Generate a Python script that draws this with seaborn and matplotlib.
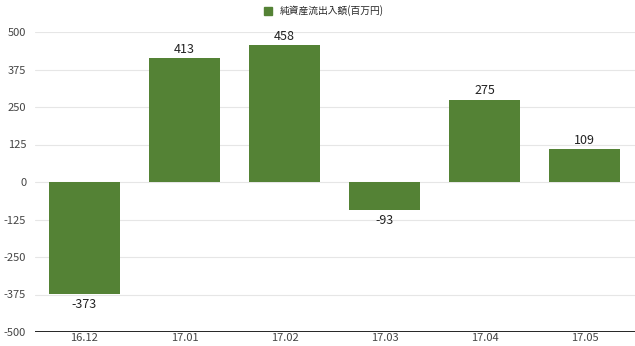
import matplotlib
matplotlib.use("Agg")
import matplotlib.pyplot as plt
import seaborn as sns
import pandas as pd
from matplotlib.patches import Patch

categories = ["16.12", "17.01", "17.02", "17.03", "17.04", "17.05"]
values = [-373, 413, 458, -93, 275, 109]
yticks = [-500, -375, -250, -125, 0, 125, 250, 375, 500]
series_name = "純資産流出入額(百万円)"

sns.set_theme(style="white")
plt.rcParams["font.family"] = ["Noto Sans CJK JP", "DejaVu Sans"]

df = pd.DataFrame({"month": categories, "value": values})
bar_color = "#548235"

fig = plt.figure(figsize=(6.35, 3.46), dpi=100)
ax = fig.add_axes([34.5 / 635, 14 / 346, 600 / 635, 300 / 346])

sns.barplot(data=df, x="month", y="value", color=bar_color, saturation=1,
            width=0.71, linewidth=0, ax=ax, zorder=3)

ax.set_ylim(-500, 500)
ax.set_xlim(-0.5, len(categories) - 0.5)
ax.set_yticks(yticks)
ax.set_yticklabels([str(t) for t in yticks])
for t in yticks:
    if t != -500:
        ax.axhline(t, color="#e6e6e6", lw=0.8, zorder=1)
ax.axhline(-500, color="black", lw=1.2, zorder=4)

for s in ax.spines.values():
    s.set_visible(False)
ax.tick_params(axis="y", length=0, labelsize=8, labelcolor="#444444", pad=6)
ax.tick_params(axis="x", length=0, labelsize=8, labelcolor="#444444", pad=1)
ax.set_xlabel("")
ax.set_ylabel("")

for i, v in enumerate(values):
    off = 1.5 if v >= 0 else -3
    ax.annotate(str(v), (i, v), xytext=(0, off), textcoords="offset points",
                ha="center", va="bottom" if v >= 0 else "top",
                fontsize=9, color="#222222")

handle = Patch(facecolor=bar_color, edgecolor=bar_color, label=series_name)
fig.legend(handles=[handle], loc="upper center", bbox_to_anchor=(0.51, 1.01),
           frameon=False, fontsize=7, handlelength=0.9, handleheight=0.9,
           handletextpad=0.8)

fig.savefig("out.png", dpi=100)
